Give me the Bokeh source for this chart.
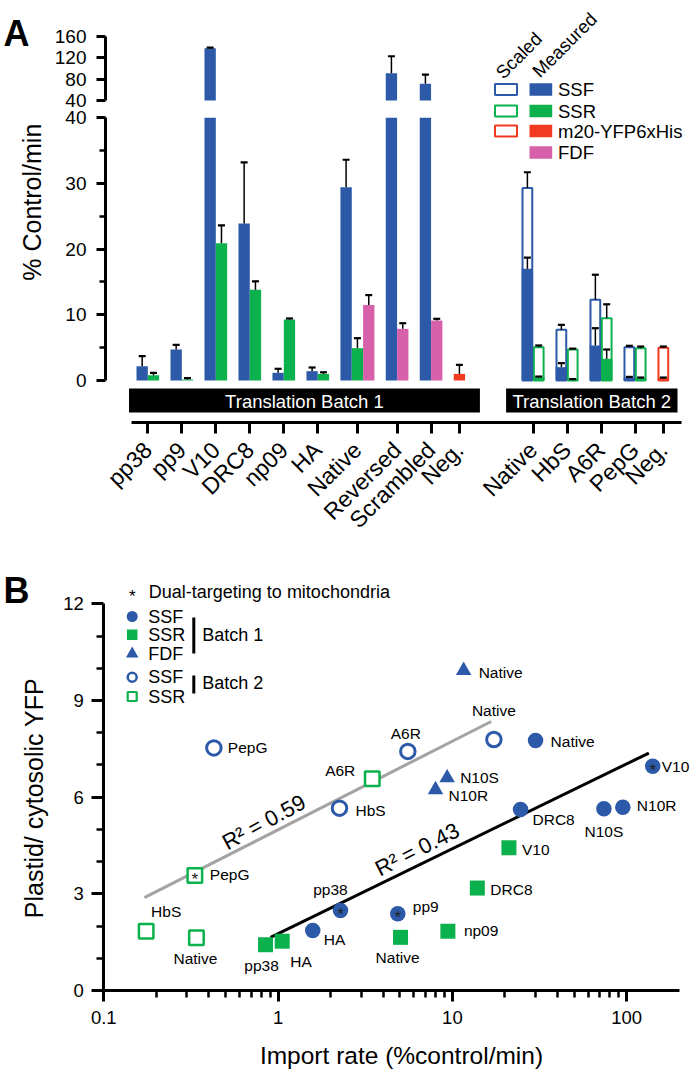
import numpy as np
from math import pi, log10
from bokeh.plotting import figure
from bokeh.models import Range1d, LinearAxis, LogAxis, FixedTicker, ColumnDataSource
from bokeh.layouts import column
from bokeh.core.properties import value
from bokeh.embed import file_html
from bokeh.resources import INLINE

# ===================== DATA: panel A =====================
b1_categories = ["pp38", "pp9", "V10", "DRC8", "np09", "HA", "Native", "Reversed", "Scrambled", "Neg."]
b1_ssf      = [2.18, 4.72, 138.0, 23.9, 1.17, 1.42, 29.4, 91.2, 71.3, None]
b1_ssf_err  = [3.70, 5.43, 139.0, 33.2, 1.78, 1.98, 33.6, 123.0, 88.7, None]
b1_ssr      = [0.81, 0.15, 20.9, 13.8, 9.28, 1.00, 4.92, None, None, None]
b1_ssr_err  = [1.17, 0.35, 23.6, 15.1, 9.44, 1.25, 6.44, None, None, None]
b1_fdf      = [None, None, None, None, None, None, 11.5, 7.86, 9.13, None]
b1_fdf_err  = [None, None, None, None, None, None, 13.0, 8.72, 9.39, None]
b1_m20      = [None, None, None, None, None, None, None, None, None, 1.01]
b1_m20_err  = [None, None, None, None, None, None, None, None, None, 2.38]

b2_categories = ["Native", "HbS", "A6R", "PepG", "Neg."]
b2_ssf_measured     = [17.0, 2.03, 5.33, 0.40, None]
b2_ssf_measured_err = [18.7, 2.64, 7.96, 0.55, None]
b2_ssf_scaled       = [29.3, 7.71, 12.3, 5.07, None]
b2_ssf_scaled_err   = [31.7, 8.47, 16.1, 5.28, None]
b2_ssr_measured     = [0.50, 0.15, 3.30, 0.35, None]
b2_ssr_measured_err = [0.60, 0.22, 4.72, 0.45, None]
b2_ssr_scaled       = [5.07, 4.72, 9.49, 4.92, None]
b2_ssr_scaled_err   = [5.33, 4.85, 11.6, 5.17, None]
b2_m20_measured     = [None, None, None, None, 0.35]
b2_m20_measured_err = [None, None, None, None, 0.45]
b2_m20_scaled       = [None, None, None, None, 4.97]
b2_m20_scaled_err   = [None, None, None, None, 5.17]

lower_ticks = [0, 10, 20, 30, 40]
lower_minor = [5, 15, 25, 35]
upper_ticks = [40, 80, 120, 160]
legend_a_names = ["SSF", "SSR", "m20-YFP6xHis", "FDF"]
batch_names = ["Translation Batch 1", "Translation Batch 2"]

# ===================== DATA: panel B =====================
b1_ssf_names = ["pp38", "pp9", "V10", "DRC8", "N10S", "N10R", "Native", "HA"]
b1_ssf_rate  = [2.28, 4.86, 141.0, 24.6, 74.0, 95.0, 30.0, 1.58]
b1_ssf_ratio = [2.48, 2.38, 6.96, 5.62, 5.64, 5.69, 7.76, 1.86]
b1_ssf_dual  = [1, 1, 1, 0, 0, 0, 0, 0]

b1_ssr_names = ["pp38", "HA", "Native", "np09", "DRC8", "V10"]
b1_ssr_rate  = [0.847, 1.056, 5.04, 9.42, 13.9, 21.1]
b1_ssr_ratio = [1.42, 1.53, 1.65, 1.84, 3.18, 4.43]

b1_fdf_names = ["Native", "N10S", "N10R"]
b1_fdf_rate  = [11.6, 9.33, 8.0]
b1_fdf_ratio = [9.93, 6.60, 6.23]

b2_ssf_names = ["Native", "A6R", "HbS", "PepG"]
b2_ssf_rate  = [17.3, 5.55, 2.25, 0.428]
b2_ssf_ratio = [7.79, 7.42, 5.66, 7.53]

b2_ssr_names = ["A6R", "PepG", "HbS", "Native"]
b2_ssr_rate  = [3.47, 0.333, 0.175, 0.34]
b2_ssr_ratio = [6.57, 3.57, 1.84, 1.64]
b2_ssr_dual  = [0, 1, 0, 0]

fit_b2_rate  = [0.171, 16.7]
fit_b2_ratio = [2.88, 8.35]
fit_b1_rate  = [0.905, 134.0]
fit_b1_ratio = [1.65, 7.37]
r2_texts = ["R\u00b2 = 0.59", "R\u00b2 = 0.43"]

b_yticks = [0, 3, 6, 9, 12]
b_yminor = [1, 2, 4, 5, 7, 8, 10, 11]
b_xticks = [0.1, 1, 10, 100]
b_xtick_labels = ["0.1", "1", "10", "100"]
b_xminor = [0.2, 0.3, 0.4, 0.5, 0.6, 0.7, 0.8, 0.9, 2, 3, 4, 5, 6, 7, 8, 9, 20, 30, 40, 50, 60, 70, 80, 90]

# ===================== style / layout =====================
BLUE = "#2C5AA8"; GREEN = "#0BB14C"; RED = "#F23A20"; PINK = "#D660A9"; GRAY = "#A3A3A3"
COL = {"SSF": BLUE, "SSR": GREEN, "FDF": PINK, "m20": RED}
FN = "Liberation Sans"
F = value(FN)
W = 693
HA_, HB_ = 540, 530
OY = 0  # page offset of the first canvas

# page-pixel helpers for panel A
PX0, SLOT = 136.0, 11.33        # page x of slot 0, px per slot
PY0, UNIT = 380.0, 6.57         # page y of value 0, px per unit
def ax_(px): return (px - PX0) / SLOT
def ay(py): return (PY0 - py) / UNIT
def au(py): return 40 + (100.0 - py) / (64.0 / 120.0)

def style_axis(a, size, tout, mout, standoff):
    a.axis_line_width = 3
    a.axis_line_color = "black"
    a.major_tick_line_width = 3
    a.minor_tick_line_width = 2.5
    a.major_tick_out = int(tout)
    a.major_tick_in = 0
    a.minor_tick_out = int(mout)
    a.minor_tick_in = 0
    a.major_label_text_font = FN
    a.major_label_text_font_size = size
    a.major_label_text_color = "black"
    a.major_label_standoff = int(standoff)

# ===================== panel A =====================
pA = figure(width=W, height=HA_, x_range=Range1d(ax_(0), ax_(W)), y_range=Range1d(ay(OY + HA_), ay(OY)),
            toolbar_location=None, output_backend="svg", x_axis_location=None, y_axis_location=None,
            min_border=0, title=None, outline_line_color=None)
pA.grid.visible = False
pA.extra_y_ranges = {"upper": Range1d(au(OY + HA_), au(OY))}

bars = []
centers, center_names = [], []
cursor = 0
b1_series = [("SSF", b1_ssf, b1_ssf_err), ("SSR", b1_ssr, b1_ssr_err),
             ("FDF", b1_fdf, b1_fdf_err), ("m20", b1_m20, b1_m20_err)]
for i, cat in enumerate(b1_categories):
    present = [(s, v[i], e[i]) for s, v, e in b1_series if v[i] is not None]
    for k, (s, v, e) in enumerate(present):
        bars.append(dict(x=cursor + k + 0.5, s=s, kind="measured", v=v, e=e))
    centers.append(cursor + len(present) / 2.0)
    center_names.append(cat)
    cursor += len(present) + 1
b1_first, b1_end = 0, cursor - 1
cursor += 4
b2_first = cursor
b2_series = [("SSF", b2_ssf_measured, b2_ssf_measured_err, b2_ssf_scaled, b2_ssf_scaled_err),
             ("SSR", b2_ssr_measured, b2_ssr_measured_err, b2_ssr_scaled, b2_ssr_scaled_err),
             ("m20", b2_m20_measured, b2_m20_measured_err, b2_m20_scaled, b2_m20_scaled_err)]
for i, cat in enumerate(b2_categories):
    present = [(s, m[i], me[i], sc[i], se[i]) for s, m, me, sc, se in b2_series if m[i] is not None]
    for k, (s, m, me, sc, se) in enumerate(present):
        x = cursor + k + 0.5
        bars.append(dict(x=x, s=s, kind="scaled", v=sc, e=se))
        bars.append(dict(x=x, s=s, kind="measured", v=m, e=me))
    centers.append(cursor + len(present) / 2.0)
    center_names.append(cat)
    cursor += len(present) + 1
b2_end = cursor - 1

def draw_kind(kind):
    sel = [b for b in bars if b["kind"] == kind]
    lo = ColumnDataSource(dict(x=[b["x"] for b in sel], top=[min(b["v"], 40) for b in sel],
                               c=[COL[b["s"]] for b in sel]))
    hi_sel = [b for b in sel if b["v"] > 40]
    hi = ColumnDataSource(dict(x=[b["x"] for b in hi_sel], top=[b["v"] for b in hi_sel],
                               c=[COL[b["s"]] for b in hi_sel]))
    if kind == "scaled":
        pA.vbar(x="x", top="top", bottom=0, width=0.86, source=lo, fill_color="white", line_color="c", line_width=2)
    else:
        pA.vbar(x="x", top="top", bottom=0, width=1.0, source=lo, fill_color="c", line_color=None)
        pA.vbar(x="x", top="top", bottom=40, width=1.0, source=hi, fill_color="c", line_color=None,
                y_range_name="upper")

def draw_err(kind):
    sel = [b for b in bars if b["kind"] == kind and b["e"] is not None]
    lx, l0, l1, cx, cy = [], [], [], [], []
    ux, u0, u1, ucx, ucy = [], [], [], [], []
    for b in sel:
        if b["v"] < 40:
            lx.append(b["x"]); l0.append(b["v"]); l1.append(min(b["e"], 40))
        if b["e"] > 40:
            ux.append(b["x"]); u0.append(max(b["v"], 40)); u1.append(b["e"])
            ucx.append(b["x"]); ucy.append(b["e"])
        else:
            cx.append(b["x"]); cy.append(b["e"])
    pA.segment(x0=lx, y0=l0, x1=lx, y1=l1, line_color="black", line_width=1.5)
    pA.scatter(x=cx, y=cy, marker="dash", size=7, line_color="black", line_width=2.2)
    pA.segment(x0=ux, y0=u0, x1=ux, y1=u1, line_color="black", line_width=1.5, y_range_name="upper")
    pA.scatter(x=ucx, y=ucy, marker="dash", size=7, line_color="black", line_width=2.2, y_range_name="upper")

draw_kind("scaled")
draw_kind("measured")
draw_err("scaled")
draw_err("measured")

# batch boxes
box_l = [b1_first - 0.66, b2_first - 1.38]
box_r = [b1_end + 1.31, b2_end + 0.75]
pA.quad(left=box_l, right=box_r, bottom=ay(412), top=ay(388), fill_color="black", line_color=None)
pA.text(x=[(l + r) / 2 for l, r in zip(box_l, box_r)], y=[ay(400.5)] * 2, text=batch_names,
        text_color="white", text_font=F, text_font_size="18.5px", text_align="center", text_baseline="middle")

# y axes (broken)
ya_lo = LinearAxis(fixed_location=ax_(105), bounds=(0, 40),
                   ticker=FixedTicker(ticks=lower_ticks, minor_ticks=lower_minor))
style_axis(ya_lo, "19px", 9, 6, 10)
pA.add_layout(ya_lo, "left")
ya_hi = LinearAxis(fixed_location=ax_(105), bounds=(40, 160), y_range_name="upper",
                   ticker=FixedTicker(ticks=upper_ticks, minor_ticks=[]))
style_axis(ya_hi, "19px", 9, 6, 10)
pA.add_layout(ya_hi, "left")

# category axis
cat_ax = LinearAxis(fixed_location=ay(421.5), bounds=(ax_(130.6), ax_(681)),
                    ticker=FixedTicker(ticks=centers, minor_ticks=[]),
                    major_label_overrides={float(c): n for c, n in zip(centers, center_names)},
                    major_label_orientation=pi / 4)
style_axis(cat_ax, "23px", 11, 0, 13)
pA.add_layout(cat_ax, "below")

# titles / panel letter
pA.text(x=[ax_(31.7)], y=[ay(201.7)], text=["% Control/min"], angle=pi / 2, text_font=F,
        text_font_size="25px", text_align="center", text_baseline="middle", text_color="black")
pA.text(x=[ax_(3)], y=[ay(33)], text=["A"], text_font=F, text_font_size="36px", text_font_style="bold",
        text_align="left", text_baseline="alphabetic", text_color="black")

# legend A
rows_y = [89.0, 110.5, 130.5, 152.0]
leg_cols = [BLUE, GREEN, RED, PINK]
pA.quad(left=[ax_(494.5)] * 3, right=[ax_(516.5)] * 3,
        top=[ay(y - 5.5) for y in rows_y[:3]], bottom=[ay(y + 5.5) for y in rows_y[:3]],
        fill_color="white", line_color=leg_cols[:3], line_width=2)
pA.quad(left=[ax_(529)] * 4, right=[ax_(551.7)] * 4,
        top=[ay(y - 6.3) for y in rows_y], bottom=[ay(y + 6.3) for y in rows_y],
        fill_color=leg_cols, line_color=None)
pA.text(x=[ax_(557.5)] * 4, y=[ay(y) for y in rows_y], text=legend_a_names, text_font=F,
        text_font_size="18.5px", text_align="left", text_baseline="middle", text_color="black")
pA.text(x=[ax_(498.3), ax_(535.0)], y=[ay(75.0), ay(73.5)], text=["Scaled", "Measured"], angle=pi / 4,
        text_font=F, text_font_size="18.5px", text_align="left", text_baseline="alphabetic", text_color="black")

# ===================== panel B =====================
BX0, DEC = 103.3, 174.3
BY0, BUNIT = 990.0, 32.22
def bx(px): return 10 ** ((px - BX0) / DEC - 1)
def by(py): return (BY0 - py) / BUNIT

top_B = OY + HA_
pB = figure(width=W, height=HB_, x_axis_type="log",
            x_range=Range1d(bx(0), bx(W)), y_range=Range1d(by(top_B + HB_), by(top_B)),
            toolbar_location=None, output_backend="svg", x_axis_location=None, y_axis_location=None,
            min_border=0, title=None, outline_line_color=None)
pB.grid.visible = False

yb = LinearAxis(fixed_location=0.1, bounds=(0, 12), ticker=FixedTicker(ticks=b_yticks, minor_ticks=b_yminor))
style_axis(yb, "18.5px", 12, 7, 8)
pB.add_layout(yb, "left")
xb = LogAxis(fixed_location=0, bounds=(0.1, 200), ticker=FixedTicker(ticks=b_xticks, minor_ticks=b_xminor),
             major_label_overrides={float(t): s for t, s in zip(b_xticks, b_xtick_labels)})
style_axis(xb, "18.5px", 11, 7, 9)
pB.add_layout(xb, "below")

# regression lines
pB.line(fit_b2_rate, fit_b2_ratio, line_color=GRAY, line_width=3)
pB.line(fit_b1_rate, fit_b1_ratio, line_color="black", line_width=3)
pB.text(x=[bx(263.3), bx(416.7)], y=[by(821.7), by(849.0)], text=r2_texts, angle=[0.50, 0.47],
        text_font=F, text_font_size="22px", text_align="center", text_baseline="middle", text_color="black")

# markers
pB.scatter(b2_ssf_rate, b2_ssf_ratio, marker="circle", size=14.5, fill_color="white", line_color=BLUE, line_width=3)
pB.scatter(b2_ssr_rate, b2_ssr_ratio, marker="square", size=14.5, fill_color="white", line_color=GREEN, line_width=2.5)
pB.scatter(b1_ssf_rate, b1_ssf_ratio, marker="circle", size=15.5, fill_color=BLUE, line_color=None)
pB.scatter(b1_ssr_rate, b1_ssr_ratio, marker="square", size=15, fill_color=GREEN, line_color=None)
pB.scatter(b1_fdf_rate, b1_fdf_ratio, marker="triangle", size=15.5, fill_color=BLUE, line_color=None)

# dual-targeting asterisks
star_x = [x for x, d in zip(b1_ssf_rate, b1_ssf_dual) if d] + [x for x, d in zip(b2_ssr_rate, b2_ssr_dual) if d]
star_y = [y for y, d in zip(b1_ssf_ratio, b1_ssf_dual) if d] + [y for y, d in zip(b2_ssr_ratio, b2_ssr_dual) if d]
pB.text(x=star_x, y=star_y, text=["*"] * len(star_x), text_font=F, text_font_size="17px", y_offset=4,
        text_align="center", text_baseline="middle", text_color="#222222")

# point labels: (dx, dy, align) per point
lab_b1_ssf = [(-10, -21, "center"), (15, -7, "left"), (9, 0, "left"), (12, 10, "left"),
              (0, 23, "center"), (14, -2, "left"), (15, 1, "left"), (11, 9, "left")]
lab_b1_ssr = [(-4, 21, "center"), (8, 20, "left"), (-3, 20, "center"), (16, -1, "left"), (13, 1, "left"), (13, 2, "left")]
lab_b1_fdf = [(15, 2, "left"), (13, 0, "left"), (13, 6, "left")]
lab_b2_ssf = [(0, -29, "center"), (-2, -18, "center"), (16, 2, "left"), (14, 0, "left")]
lab_b2_ssr = [(-17, -8, "right"), (15, -1, "left"), (20, -20, "center"), (-1, 21, "center")]

groups = [(b1_ssf_names, b1_ssf_rate, b1_ssf_ratio, lab_b1_ssf),
          (b1_ssr_names, b1_ssr_rate, b1_ssr_ratio, lab_b1_ssr),
          (b1_fdf_names, b1_fdf_rate, b1_fdf_ratio, lab_b1_fdf),
          (b2_ssf_names, b2_ssf_rate, b2_ssf_ratio, lab_b2_ssf),
          (b2_ssr_names, b2_ssr_rate, b2_ssr_ratio, lab_b2_ssr)]
for align in ["left", "center", "right"]:
    d = dict(x=[], y=[], t=[], dx=[], dy=[])
    for names, xs, ys, labs in groups:
        for n, x, y, (dx, dy, al) in zip(names, xs, ys, labs):
            if al == align:
                d["x"].append(x); d["y"].append(y); d["t"].append(n); d["dx"].append(dx); d["dy"].append(dy)
    pB.text(x="x", y="y", text="t", x_offset="dx", y_offset="dy", source=ColumnDataSource(d),
            text_font=F, text_font_size="15.5px", text_align=align, text_baseline="middle", text_color="black")

# legend B
pB.text(x=[bx(131.7)], y=[by(591.7)], text=["*"], text_font=F, text_font_size="17px", y_offset=4,
        text_align="center", text_baseline="middle", text_color="black")
pB.text(x=[bx(148.3)], y=[by(591.7)], text=["Dual-targeting to mitochondria"], text_font=F,
        text_font_size="18px", text_align="left", text_baseline="middle", text_color="black")
lx = bx(131.7)
pB.scatter([lx], [by(616)], marker="circle", size=11, fill_color=BLUE, line_color=None)
pB.scatter([lx], [by(634.3)], marker="square", size=10.5, fill_color=GREEN, line_color=None)
pB.scatter([lx], [by(653.3)], marker="triangle", size=12.5, fill_color=BLUE, line_color=None)
pB.scatter([lx], [by(676.7)], marker="circle", size=9, fill_color="white", line_color=BLUE, line_width=2.5)
pB.scatter([lx], [by(696)], marker="square", size=9, fill_color="white", line_color=GREEN, line_width=2.2)
pB.text(x=[bx(147.7)] * 5, y=[by(v) for v in [616, 634.3, 653.3, 676.7, 696]],
        text=["SSF", "SSR", "FDF", "SSF", "SSR"], text_font=F, text_font_size="18px",
        text_align="left", text_baseline="middle", text_color="black")
pB.segment(x0=[bx(193.3)] * 2, y0=[by(617), by(675)], x1=[bx(193.3)] * 2, y1=[by(653), by(693)],
           line_color="black", line_width=3)
pB.text(x=[bx(201.7)] * 2, y=[by(634), by(682.7)], text=["Batch 1", "Batch 2"], text_font=F,
        text_font_size="18px", text_align="left", text_baseline="middle", text_color="black")

# titles
pB.text(x=[bx(33)], y=[by(797.5)], text=["Plastid/ cytosolic YFP"], angle=pi / 2, text_font=F,
        text_font_size="25px", text_align="center", text_baseline="middle", text_color="black")
pB.text(x=[bx(401)], y=[by(1055)], text=["Import rate (%control/min)"], text_font=F,
        text_font_size="24.5px", text_align="center", text_baseline="middle", text_color="black")
pB.text(x=[bx(3)], y=[by(590)], text=["B"], text_font=F, text_font_size="36px", text_font_style="bold",
        text_align="left", text_baseline="alphabetic", text_color="black")

layout = column(pA, pB)
open("out.html", "w").write(file_html(layout, INLINE))
